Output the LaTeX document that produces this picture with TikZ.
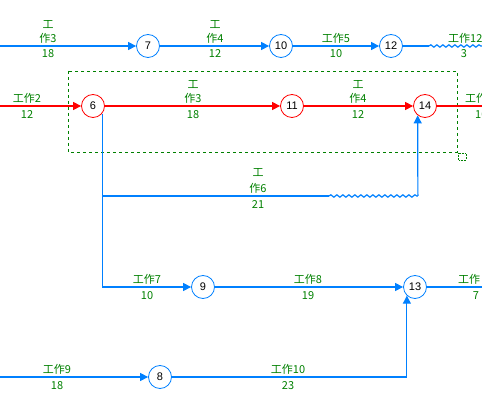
\documentclass[tikz,border=0pt]{standalone}
\usepackage{fontspec}
\setmainfont{Liberation Sans}
\newfontfamily\cjk{Noto Sans CJK SC}
\usetikzlibrary{arrows.meta,decorations.pathmorphing}
\definecolor{lblue}{RGB}{0,128,255}
\definecolor{lgreen}{RGB}{0,128,0}
\definecolor{lred}{RGB}{255,0,0}
\begin{document}
\begin{tikzpicture}[x=1pt,y=-1pt,
 ev/.style={circle,draw,minimum size=23pt,inner sep=0pt,line width=0.8pt,font=\fontsize{11}{11}\selectfont},
 bev/.style={ev,draw=lblue}, rev/.style={ev,draw=lred},
 bl/.style={lblue,line width=1.2pt}, rl/.style={lred,line width=1.2pt},
 arr/.style={-{Triangle[length=8pt,width=8pt]}},
 lab/.style={text=lgreen,inner sep=0pt,font=\cjk\fontsize{11}{11}\selectfont},
 wav/.style={decorate,decoration={snake,amplitude=1.2pt,segment length=6pt}}]
\useasboundingbox (0,0) rectangle (482,403);
\clip (0,0) rectangle (482,403);
% events
\node[bev] (n7) at (148,46) {7};
\node[bev] (n10) at (281,46) {10};
\node[bev] (n12) at (391,46) {12};
\node[rev] (n6) at (93,106) {6};
\node[rev] (n11) at (292,106) {11};
\node[rev] (n14) at (425,106) {14};
\node[bev] (n9) at (203,287) {9};
\node[bev] (n13) at (415,287) {13};
\node[bev] (n8) at (160,377) {8};
% helper coordinates
\coordinate (L1) at (0,46);
\coordinate (L2) at (0,106);
\coordinate (L3) at (0,377);
\coordinate (W1) at (429,46);
\coordinate (R1) at (482,46);
\coordinate (R2) at (482,106);
\coordinate (R3) at (482,287);
\coordinate (J) at (101.8,196);
\coordinate (W2) at (329,196);
\coordinate (W3) at (417.9,196);
% dashed frame
\draw[lgreen,dash pattern=on 3pt off 3pt,line width=0.8pt] (68,71) rectangle (457,152);
\draw[lgreen,densely dotted,line width=0.6pt] (458,153) rectangle (466,160);
% connectors
\draw[bl,arr] (L1) -- (n7);
\draw[bl,arr] (n7) -- (n10);
\draw[bl,arr] (n10) -- (n12);
\draw[bl] (n12) -- (W1);
\draw[bl,wav] (W1) -- (R1);
\draw[rl,arr] (L2) -- (n6);
\draw[rl,arr] (n6) -- (n11);
\draw[rl,arr] (n11) -- (n14);
\draw[rl] (n14) -- (R2);
\draw[bl,arr] (n6.-40) |- (n9);
\draw[bl] (J) -- (W2);
\draw[bl,wav] (W2) -- (W3);
\draw[bl,arr] (W3) -- (n14.-128);
\draw[bl,arr] (n9) -- (n13);
\draw[bl] (n13) -- (R3);
\draw[bl,arr] (L3) -- (n8);
\draw[bl,arr] (n8) -| (n13.-133);
% labels
\node[lab] (a1) at (48,25) {工};
\node[lab] (a2) at (48,38) {作3};
\node[lab] (a3) at (48,54) {18};
\node[lab] (b1) at (215,25) {工};
\node[lab] (b2) at (215,38) {作4};
\node[lab] (b3) at (215,54) {12};
\node[lab] (c1) at (336,38) {工作5};
\node[lab] (c2) at (336,54) {10};
\node[lab,anchor=west] (d1) at (448,38) {工作12};
\node[lab] (d2) at (464,54) {3};
\node[lab] (e1) at (27,98) {工作2};
\node[lab] (e2) at (27,115) {12};
\node[lab] (f1) at (193,85) {工};
\node[lab] (f2) at (193,98) {作3};
\node[lab] (f3) at (193,115) {18};
\node[lab] (g1) at (358,85) {工};
\node[lab] (g2) at (358,98) {作4};
\node[lab] (g3) at (358,115) {12};
\node[lab,anchor=west] (h1) at (465,98) {工作};
\node[lab,anchor=west] (h2) at (475,115) {10};
\node[lab] (i1) at (258,173) {工};
\node[lab] (i2) at (258,188) {作6};
\node[lab] (i3) at (258,205) {21};
\node[lab] (k1) at (147,279) {工作7};
\node[lab] (k2) at (147,296) {10};
\node[lab] (m1) at (308,279) {工作8};
\node[lab] (m2) at (308,296) {19};
\node[lab,anchor=west] (o1) at (458,279) {工作};
\node[lab] (o2) at (476,296) {7};
\node[lab] (p1) at (57,369) {工作9};
\node[lab] (p2) at (57,386) {18};
\node[lab] (q1) at (288,369) {工作10};
\node[lab] (q2) at (288,386) {23};
\end{tikzpicture}
\end{document}
